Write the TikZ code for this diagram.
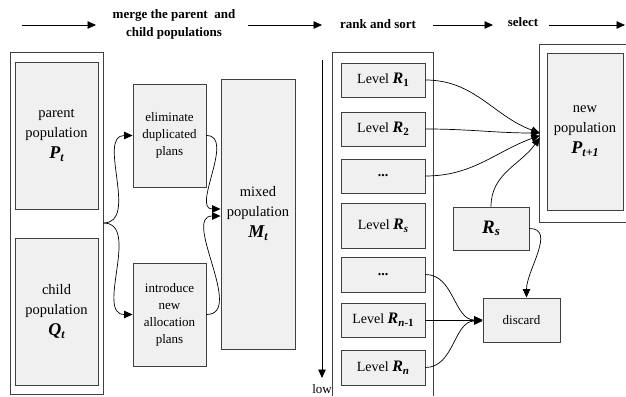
\documentclass[tikz,border=0pt]{standalone}
\usepackage{fontspec}
\setmainfont{Liberation Serif}
\usetikzlibrary{arrows.meta}
\definecolor{linec}{HTML}{404040}
\definecolor{boxfill}{HTML}{F0F0F0}
% #1 size, #2 letter, #3 subscript size, #4 subscript
\newcommand{\bsym}[4]{{\fontsize{#1}{#1}\selectfont\bfseries\itshape #2}\raisebox{-0.45ex}{\fontsize{#3}{#3}\selectfont\bfseries #4}}
\begin{document}
\begin{tikzpicture}[x=1pt,y=1pt,
  box/.style={draw=linec, fill=boxfill, line width=0.9pt, inner sep=0pt, align=center},
  frame/.style={draw=linec, line width=0.9pt},
  conn/.style={line width=0.7pt, -{Triangle[length=8.5pt,width=7.5pt]}},
  big/.style={font=\fontsize{14.5}{20}\selectfont},
  small/.style={font=\fontsize{13}{17}\selectfont},
  lvl/.style={font=\fontsize{14}{17}\selectfont},
  head/.style={font=\fontsize{13}{18}\selectfont\bfseries, align=center, inner sep=0pt}]
\useasboundingbox (0,0) rectangle (626,-396);
% header
\node[head] (hmerge) at (174,-24) {merge the parent\ \ and\\child populations};
\node[head] (hrank) at (378,-24) {rank and sort};
\node[head] (hsel) at (523,-22) {select};
\coordinate (a1s) at (22,-25); \coordinate (a1e) at (96,-25);
\coordinate (a2s) at (248,-25); \coordinate (a2e) at (322,-25);
\coordinate (a3s) at (433,-25); \coordinate (a3e) at (493,-25);
\coordinate (a4s) at (549,-25); \coordinate (a4e) at (625,-25);
\foreach \s/\e in {a1s/a1e,a2s/a2e,a3s/a3e,a4s/a4e}
  \draw[conn] (\s) -- (\e);
% left group
\node[frame, fill=white, minimum width=93pt, minimum height=342pt, inner sep=0pt] (outerL) at (56.5,-223) {};
\node[box, big, minimum width=83pt, minimum height=147pt] (parent) at (56.5,-135.5)
  {parent\\population\\[1pt]\bsym{18}{P}{12}{\itshape t}};
\node[box, big, minimum width=83pt, minimum height=147pt] (child) at (56.5,-311.5)
  {child\\population\\[1pt]\bsym{18}{Q}{12}{\itshape t}};
\node[box, small, minimum width=73pt, minimum height=103pt] (elim) at (169.5,-135.5)
  {eliminate\\duplicated\\plans};
\node[box, small, minimum width=73pt, minimum height=103pt] (intro) at (169.5,-314.5)
  {introduce\\new\\allocation\\plans};
\node[box, big, minimum width=74pt, minimum height=270pt] (mixed) at (258,-214)
  {mixed\\population\\[1pt]\bsym{18}{M}{12}{\itshape t}};
\draw[conn] (outerL.east) to[out=0,in=180] (elim.west);
\draw[conn] (outerL.east) to[out=0,in=180] (intro.west);
\draw[conn] (elim.east) to[out=0,in=180] ([yshift=5pt]mixed.west);
\draw[conn] (intro.east) to[out=0,in=180] ([yshift=-2pt]mixed.west);
% low arrow
\coordinate (lowtop) at (322,-60);
\coordinate (lowend) at (322,-378);
\node[small, inner sep=0pt] (lowlbl) at (322,-389) {low};
\draw[conn] (lowtop) -- (lowend);
% rank column
\node[minimum width=100pt, minimum height=343pt, inner sep=0pt] (rankcol) at (383,-224.5) {};
\draw[frame] (rankcol.south west) -- (rankcol.north west) -- (rankcol.north east) -- (rankcol.south east);
\node[box, lvl, minimum width=84pt, minimum height=34pt] (R1) at (383,-80) {Level \bsym{16}{R}{11}{1}};
\node[box, lvl, minimum width=84pt, minimum height=34pt] (R2) at (383,-129) {Level \bsym{16}{R}{11}{2}};
\node[box, lvl, minimum width=84pt, minimum height=34pt] (D1) at (383,-176) {\textbf{...}};
\node[box, lvl, minimum width=84pt, minimum height=45pt] (RS) at (383,-225.5) {Level \bsym{16}{R}{11}{\itshape s}};
\node[box, lvl, minimum width=84pt, minimum height=35pt] (D2) at (383,-274.5) {\textbf{...}};
\node[box, lvl, minimum width=84pt, minimum height=34pt] (Rn1) at (383,-320) {Level \bsym{16}{R}{11}{{\itshape n}-1}};
\node[box, lvl, minimum width=84pt, minimum height=35pt] (Rn) at (383,-367.5) {Level \bsym{16}{R}{11}{\itshape n}};
% new population
\node[minimum width=86pt, minimum height=177pt, inner sep=0pt] (newframe) at (583,-133.5) {};
\draw[frame] (newframe.north east) -- (newframe.north west) -- (newframe.south west) -- (newframe.south east);
\node[box, big, minimum width=76pt, minimum height=157pt] (newpop) at (585,-131.5)
  {new\\population\\[1pt]\bsym{18}{P}{12}{\itshape t+1}};
\node[box, minimum width=76pt, minimum height=43pt] (Rsel) at (491,-228.5)
  {\bsym{19}{R}{13}{\itshape s}};
\node[box, small, minimum width=77pt, minimum height=44pt] (disc) at (521.5,-320) {discard};
% connectors right
\draw[conn] (R1.east) to[out=0,in=160] ([yshift=0.5pt]newframe.west);
\draw[conn] (R2.east) to[out=0,in=180] ([yshift=0.5pt]newframe.west);
\draw[conn] (D1.east) to[out=0,in=200] ([yshift=-2pt]newframe.west);
\draw[conn] (Rsel.north) to[out=90,in=235] ([yshift=-4pt]newframe.west);
\draw[conn] (Rsel.east) to[out=0,in=90] ([xshift=5pt]disc.north);
\draw[conn] (D2.east) to[out=0,in=180] (disc.west);
\draw[conn] (Rn1.east) -- (disc.west);
\draw[conn] (Rn.east) to[out=0,in=180] ([yshift=-1pt]disc.west);
\end{tikzpicture}
\end{document}
